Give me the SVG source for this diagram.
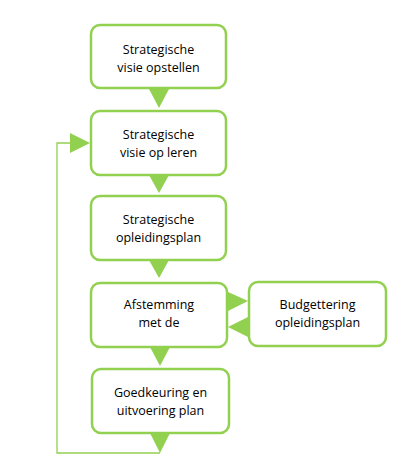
<svg xmlns="http://www.w3.org/2000/svg" width="406" height="467" viewBox="0 0 406 467">
<style>
.box{fill:#fff;stroke:#92d050;stroke-width:2.5}
.tri{fill:#92d050}
.ln{fill:none;stroke:#92d050;stroke-width:1.3}
text{font-family:"Open Sans","Liberation Sans",sans-serif;font-size:12.5px;fill:#000;text-anchor:middle}
</style>
<rect width="406" height="467" fill="#fff"/>
<g id="connectors">
<polyline class="ln" points="160,453 57,453 57,143 72,143"/>
<polygon class="tri" points="70,133 90,143 70,153"/>
<polygon class="tri" points="149,89 169,89 159,108"/>
<polygon class="tri" points="149,175 169,175 159,193"/>
<polygon class="tri" points="149,260 169,260 159,278"/>
<polygon class="tri" points="228,292 248,301 228,311"/>
<polygon class="tri" points="248,317 228,327 248,337"/>
<polygon class="tri" points="150,347 170,347 160,366"/>
<polygon class="tri" points="150,433 170,433 160,453"/>
</g>
<g id="n1"><rect class="box" x="91" y="25" width="135" height="63" rx="9"/>
<text x="158.5" y="54">Strategische</text><text x="158.5" y="72">visie opstellen</text></g>
<g id="n2"><rect class="box" x="91" y="111" width="135" height="64" rx="9"/>
<text x="158.5" y="139">Strategische</text><text x="158.5" y="157">visie op leren</text></g>
<g id="n3"><rect class="box" x="91" y="196" width="135" height="64" rx="9"/>
<text x="158.5" y="224">Strategische</text><text x="158.5" y="242">opleidingsplan</text></g>
<g id="n4"><rect class="box" x="91" y="283" width="136" height="64" rx="9"/>
<text x="159" y="309">Afstemming</text><text x="159" y="327">met de</text></g>
<g id="n5"><rect class="box" x="249" y="282" width="137" height="64" rx="9"/>
<text x="317.5" y="309">Budgettering</text><text x="317.5" y="327">opleidingsplan</text></g>
<g id="n6"><rect class="box" x="92" y="369" width="137" height="64" rx="9"/>
<text x="160.5" y="397">Goedkeuring en</text><text x="160.5" y="415">uitvoering plan</text></g>
</svg>
